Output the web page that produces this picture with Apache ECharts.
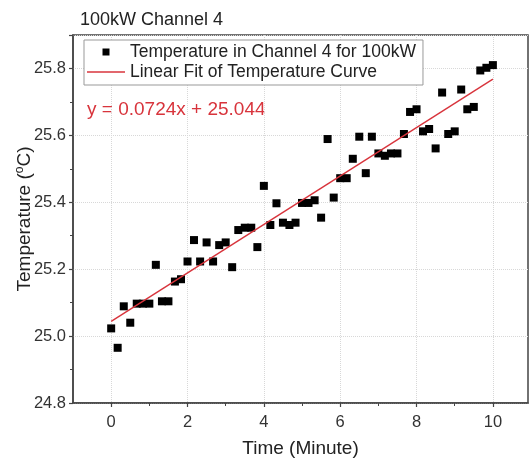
<!DOCTYPE html>
<html>
<head>
<meta charset="utf-8">
<script src="https://cdn.jsdelivr.net/npm/echarts@6/dist/echarts.min.js"></script>
<style>
  html, body { margin: 0; padding: 0; background: #fff; }
  #main { width: 531px; height: 459px; }
</style>
</head>
<body>
<div id="main"></div>
<script>
// time in minutes (one reading every 10 s)
var timeMin = [0, 0.17, 0.33, 0.5, 0.67, 0.83, 1, 1.17, 1.33, 1.5, 1.67, 1.83,
  2, 2.17, 2.33, 2.5, 2.67, 2.83, 3, 3.17, 3.33, 3.5, 3.67, 3.83,
  4, 4.17, 4.33, 4.5, 4.67, 4.83, 5, 5.17, 5.33, 5.5, 5.67, 5.83,
  6, 6.17, 6.33, 6.5, 6.67, 6.83, 7, 7.17, 7.33, 7.5, 7.67, 7.83,
  8, 8.17, 8.33, 8.5, 8.67, 8.83, 9, 9.17, 9.33, 9.5, 9.67, 9.83, 10];
var tempC = [25.023, 24.965, 25.089, 25.040, 25.097, 25.097, 25.097, 25.213, 25.104, 25.104, 25.163, 25.170,
  25.223, 25.287, 25.223, 25.280, 25.223, 25.272, 25.280, 25.206, 25.317, 25.324, 25.324, 25.266,
  25.449, 25.332, 25.397, 25.339, 25.332, 25.339, 25.398, 25.398, 25.406, 25.354, 25.589, 25.414,
  25.472, 25.472, 25.530, 25.596, 25.487, 25.596, 25.546, 25.539, 25.546, 25.546, 25.604, 25.670,
  25.678, 25.612, 25.619, 25.561, 25.728, 25.604, 25.612, 25.737, 25.678, 25.685, 25.794, 25.802, 25.810];
// linear fit end points
var fitX = [0, 10];
var fitY = [25.044, 25.768];
var fitText = 'y = 0.0724x + 25.044';
var seriesNames = ['Temperature in Channel 4 for 100kW', 'Linear Fit of Temperature Curve'];
var xMajor = [0, 2, 4, 6, 8, 10];
var xMinor = [1, 3, 5, 7, 9];

var pts = timeMin.map(function (t, i) { return [t, tempC[i]]; });
var fitPts = fitX.map(function (t, i) { return [t, fitY[i]]; });

var font = 'Liberation Sans, Arial, sans-serif';
var frame = '#444';
var red = '#d8343c';
var myChart = echarts.init(document.getElementById('main'));
myChart.setOption({
  backgroundColor: '#fff',
  animation: false,
  textStyle: { fontFamily: font },
  title: {
    text: '100kW Channel 4',
    left: 75,
    top: 6,
    textStyle: { fontSize: 18, fontWeight: 'normal', color: '#222', fontFamily: font }
  },
  grid: {
    left: 73, right: 3, top: 35, bottom: 56,
    outerBoundsMode: 'none',
    containLabel: false,
    show: true, borderColor: frame, borderWidth: 1.5, backgroundColor: '#fff'
  },
  legend: {
    orient: 'vertical',
    left: 84, top: 40,
    padding: [2, 7, 3, 3],
    itemGap: 0,
    itemWidth: 38,
    itemHeight: 7,
    backgroundColor: '#fff',
    borderColor: '#999',
    borderWidth: 1,
    borderRadius: 0,
    textStyle: { fontSize: 17.5, lineHeight: 20, color: '#222', fontFamily: font },
    data: [
      { name: seriesNames[0], icon: 'path://M0,0H1V1H0Z', itemStyle: { color: '#000' } },
      { name: seriesNames[1], icon: 'path://M0,0H38V1.4H0Z', itemStyle: { color: red } }
    ]
  },
  xAxis: [{
    type: 'value',
    min: -1, max: 10.92,
    axisLine: { show: true, onZero: false, lineStyle: { color: frame, width: 1.5 } },
    axisTick: { show: true, length: 4, customValues: xMajor, lineStyle: { color: frame, width: 1.2 } },
    axisLabel: {
      color: '#333', fontSize: 16.5, margin: 11,
      customValues: xMajor
    },
    splitLine: { show: true, lineStyle: { color: '#d8d8d8', type: 'dotted', width: 1 } },
    name: 'Time (Minute)',
    nameLocation: 'middle',
    nameGap: 36,
    nameTextStyle: { fontSize: 19, color: '#222', fontFamily: font }
  }, {
    // minor ticks at odd minutes
    type: 'value',
    position: 'bottom',
    min: -1, max: 10.92,
    axisLine: { show: false, onZero: false },
    axisTick: { show: true, length: 3, customValues: xMinor, lineStyle: { color: frame, width: 1 } },
    axisLabel: { show: false },
    splitLine: { show: false }
  }],
  yAxis: {
    type: 'value',
    min: 24.8, max: 25.9,
    interval: 0.2,
    axisLine: { show: true, onZero: false, lineStyle: { color: frame, width: 1.5 } },
    axisTick: { show: true, length: 4, lineStyle: { color: frame, width: 1.2 } },
    minorTick: { show: true, splitNumber: 2, length: 3, lineStyle: { color: frame, width: 1 } },
    axisLabel: {
      color: '#333', fontSize: 16.5, margin: 7,
      showMaxLabel: false,
      formatter: function (v) { return v <= 25.81 ? v.toFixed(1) : ''; }
    },
    splitLine: { show: true, lineStyle: { color: '#d8d8d8', type: 'dotted', width: 1 } },
    name: '{a|Temperature (}{s|o}{a|C)}',
    nameLocation: 'middle',
    nameMoveOverlap: false,
    nameGap: 38,
    nameTextStyle: {
      fontFamily: font,
      rich: {
        a: { fontSize: 19, color: '#222', fontFamily: font },
        s: { fontSize: 12, color: '#222', fontFamily: font, verticalAlign: 'top', padding: [0, 0, 9, 0] }
      }
    }
  },
  graphic: [{
    type: 'text',
    left: 87, top: 100,
    style: { text: fitText, fill: red, font: '19px ' + font }
  }],
  series: [
    {
      name: seriesNames[0],
      type: 'scatter',
      symbol: 'rect',
      symbolSize: 8,
      itemStyle: { color: '#000', opacity: 1 },
      data: pts,
      z: 3
    },
    {
      name: seriesNames[1],
      type: 'line',
      symbol: 'none',
      showSymbol: false,
      lineStyle: { color: red, width: 1.4 },
      itemStyle: { color: red },
      data: fitPts,
      z: 4
    }
  ]
});
</script>
</body>
</html>
